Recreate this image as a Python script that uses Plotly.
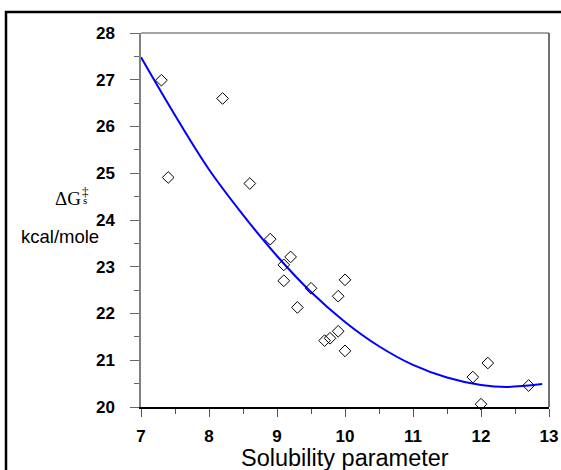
import plotly.graph_objects as go

# Data
sol_x = [7.3, 7.4, 8.2, 8.6, 8.9, 9.1, 9.1, 9.2, 9.3, 9.5, 9.7, 9.78, 9.9, 9.9, 10.0, 10.0, 11.88, 12.0, 12.1, 12.7]
dg_y = [26.99, 24.91, 26.60, 24.78, 23.59, 23.04, 22.70, 23.21, 22.13, 22.54, 21.42, 21.47, 21.62, 22.37, 22.72, 21.20, 20.64, 20.06, 20.94, 20.46]

fit_x = [7.0, 7.5, 8.0, 8.5, 9.0, 9.5, 10.0, 10.5, 11.0, 11.5, 12.0, 12.4, 12.9]
fit_y = [27.48, 26.24, 25.08, 24.11, 23.23, 22.46, 21.82, 21.30, 20.90, 20.63, 20.47, 20.43, 20.49]

x_ticks = [7, 8, 9, 10, 11, 12, 13]
y_ticks = [20, 21, 22, 23, 24, 25, 26, 27, 28]

W, H = 561, 470
L, R, T, B = 141, 12, 33, 63
PW, PH = W - L - R, H - T - B


def px(xp):
    return (xp - L) / PW


def py(yp):
    return (H - B - yp) / PH


fig = go.Figure()
fig.add_trace(go.Scatter(
    x=fit_x, y=fit_y, mode="lines", line=dict(color="#0000FF", width=2, shape="spline"),
    hoverinfo="skip", showlegend=False, cliponaxis=False))
fig.add_trace(go.Scatter(
    x=sol_x, y=dg_y, mode="markers",
    marker=dict(symbol="diamond-open", size=9, color="black", line=dict(width=1, color="black")),
    showlegend=False, cliponaxis=False))

tickfont = dict(family="Liberation Sans, Arial, sans-serif", size=17, color="black", weight="bold")

fig.update_xaxes(
    range=[7, 13], tickvals=x_ticks, ticktext=[str(v) for v in x_ticks],
    ticks="outside", ticklen=8, tickwidth=1, tickcolor="#555555",
    minor=dict(dtick=0.5, tick0=7, ticks="outside", ticklen=5, tickwidth=1, tickcolor="#555555"),
    showline=True, linecolor="black", linewidth=1.5, mirror=False,
    showgrid=False, zeroline=False, tickfont=tickfont, ticklabelstandoff=5)
fig.update_yaxes(
    range=[20, 28], tickvals=y_ticks, ticktext=[str(v) for v in y_ticks],
    ticks="outside", ticklen=9, tickwidth=1, tickcolor="#666666",
    minor=dict(dtick=0.5, tick0=20, ticks="outside", ticklen=5, tickwidth=1, tickcolor="#666666"),
    showline=True, linecolor="#808080", linewidth=1.5, mirror=False,
    showgrid=False, zeroline=False, tickfont=tickfont, ticklabelstandoff=12)

serif = "Liberation Serif, Times New Roman, serif"

fig.update_layout(
    width=W, height=H, margin=dict(l=L, r=R, t=T, b=B, autoexpand=False),
    paper_bgcolor="white", plot_bgcolor="white",
    shapes=[
        # outer frame
        dict(type="rect", xref="paper", yref="paper", x0=px(6), y0=py(H + 20), x1=px(W + 20), y1=py(12),
             line=dict(color="black", width=2.5), layer="above"),
        # top and right plot frame
        dict(type="line", xref="paper", yref="paper", x0=0, x1=1, y0=1, y1=1,
             line=dict(color="#888888", width=1.5)),
        dict(type="line", xref="paper", yref="paper", x0=1, x1=1, y0=0, y1=1,
             line=dict(color="#444444", width=1.5)),
    ],
    annotations=[
        dict(text="Solubility parameter", xref="paper", yref="paper", x=0.5, y=py(458),
             xanchor="center", yanchor="middle", showarrow=False,
             font=dict(family="Liberation Sans, Arial, sans-serif", size=23.5, color="black")),
        dict(text="ΔG", xref="paper", yref="paper", x=px(54), y=py(198),
             xanchor="left", yanchor="middle", showarrow=False, borderpad=0,
             font=dict(family=serif, size=19, color="black")),
        dict(text="<span style='font-size:13px'>‡</span><br><span style='font-size:11px'>s</span>",
             xref="paper", yref="paper", x=px(81), y=py(195), borderpad=0,
             xanchor="left", yanchor="middle", showarrow=False, align="center",
             font=dict(family=serif, size=6.5, color="black")),
        dict(text="kcal/mole", xref="paper", yref="paper", x=px(60), y=py(237),
             xanchor="center", yanchor="middle", showarrow=False,
             font=dict(family="Liberation Sans, Arial, sans-serif", size=18.5, color="black")),
    ],
)

fig.write_html("out.html", config={"displayModeBar": False},
               post_script="document.body.style.margin='0px';document.body.style.overflow='hidden';")
